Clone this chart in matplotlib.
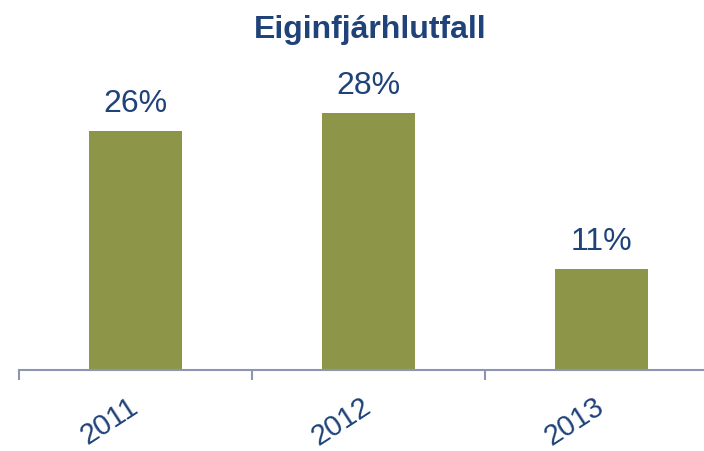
import matplotlib.pyplot as plt
import matplotlib.transforms as mtransforms
import numpy as np

years = ["2011", "2012", "2013"]
ratios = [26, 28, 11]

plt.rcParams['font.family'] = ['Liberation Sans', 'DejaVu Sans']

text_color = "#1F4279"
bar_color = "#8D9648"
axis_color = "#8C96B0"

fig = plt.figure(figsize=(7.04, 4.51), dpi=100)
ax = fig.add_axes([19 / 704, 1 - 370 / 451, 699 / 704, 309 / 451])

x = np.arange(len(years))
ax.bar(x, ratios, width=0.4, color=bar_color)
for xi, v in zip(x, ratios):
    ax.text(xi, v + 1.3, f"{v}%", ha="center", va="bottom", fontsize=23, color=text_color)

ax.set_xlim(-0.5, len(years) - 0.5)
ax.set_ylim(0, 33.6)
ax.set_yticks([])
for s in ["top", "right", "left"]:
    ax.spines[s].set_visible(False)
ax.spines["bottom"].set_color(axis_color)
ax.spines["bottom"].set_linewidth(1.5)

ax.set_xticks(x)
ax.set_xticklabels(years, rotation=33, ha="right", va="top", rotation_mode="anchor",
                   fontsize=21, color=text_color)
ax.tick_params(axis="x", which="major", length=0, pad=16)
shift = mtransforms.ScaledTranslation(-8 / 100, 0, fig.dpi_scale_trans)
for lbl in ax.get_xticklabels():
    lbl.set_transform(lbl.get_transform() + shift)
ax.set_xticks(np.arange(-0.5, len(years)), minor=True)
ax.tick_params(axis="x", which="minor", length=7, width=1.5, color=axis_color)

fig.text(370 / 704, 1 - 30 / 451, "Eiginfjárhlutfall", ha="center", va="center",
         fontsize=23, fontweight="bold", color=text_color)

fig.savefig("out.png", dpi=100)
